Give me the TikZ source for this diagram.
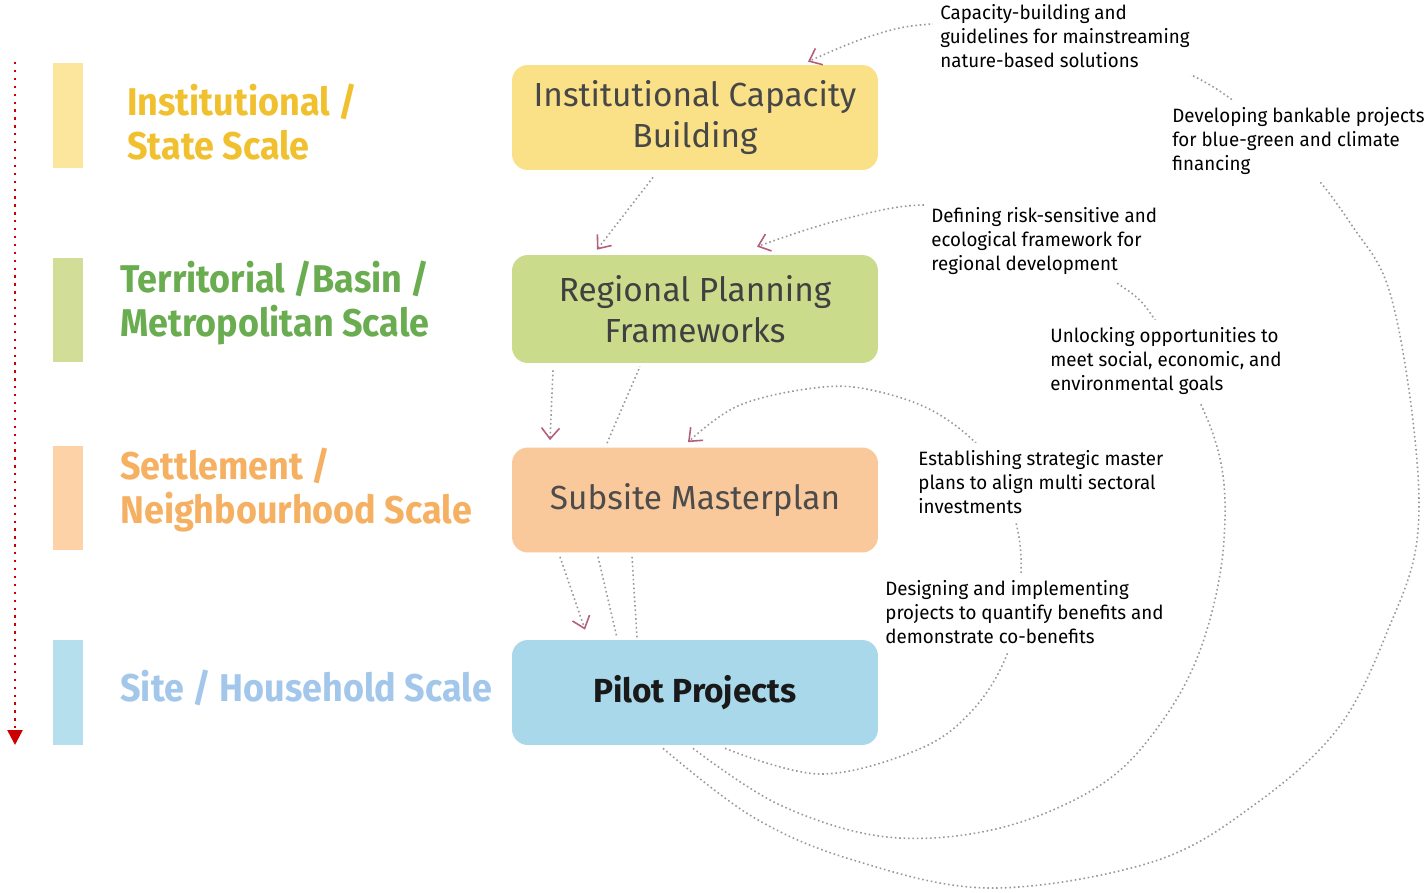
\documentclass[tikz,border=0pt]{standalone}
\usepackage{fontspec}
\setmainfont{Fira Sans}
\newfontfamily\scalefont{Fira Sans}[FakeStretch=0.93]
\newfontfamily\notefont{Fira Sans}[FakeStretch=0.97]
\usetikzlibrary{arrows.meta, positioning, calc}
\definecolor{statecolor}{RGB}{240,192,46}
\definecolor{statebar}{RGB}{252,230,158}
\definecolor{statefill}{RGB}{250,225,135}
\definecolor{basincolor}{RGB}{106,172,80}
\definecolor{basinbar}{RGB}{210,222,152}
\definecolor{basinfill}{RGB}{202,220,140}
\definecolor{settlecolor}{RGB}{245,176,98}
\definecolor{settlebar}{RGB}{252,210,166}
\definecolor{settlefill}{RGB}{249,200,155}
\definecolor{sitecolor}{RGB}{163,199,234}
\definecolor{sitebar}{RGB}{181,223,236}
\definecolor{sitefill}{RGB}{168,216,234}
\definecolor{linkgray}{RGB}{158,150,156}
\definecolor{tipcolor}{RGB}{180,95,120}
\definecolor{scalered}{RGB}{204,0,0}

\begin{document}
\begin{tikzpicture}[
    x=0.02cm, y=-0.02cm,
    level/.style={rounded corners=9pt, minimum width=7.32cm, minimum height=2.1cm, align=center, inner sep=0pt, font=\fontsize{19}{23.5}\selectfont},
    bar/.style={minimum width=0.6cm, minimum height=2.1cm, inner sep=0pt},
    scalelabel/.style={anchor=west, align=left, inner sep=0pt, font=\scalefont\fontsize{22}{25}\selectfont\bfseries},
    note/.style={anchor=west, align=left, fill=white, inner sep=4pt, font=\notefont\fontsize{11}{13.6}\selectfont},
    link/.style={draw=linkgray, line width=0.9pt, dash pattern=on 0.9pt off 1.6pt},
    arrow/.style={link, -{Straight Barb[length=2.2mm, width=3.6mm, line width=0.9pt, color=tipcolor]}}
]
    \fill[white] (0,0) rectangle (1428,893);
    \useasboundingbox (0,0) rectangle (1428,893);

    % Scale axis
    \coordinate (axistop) at (15,62);
    \coordinate (axisbottom) at (15,745);
    \draw[scalered, line width=1.4pt, dash pattern=on 1.3pt off 3.2pt, -{Triangle[length=3mm, width=3mm]}] (axistop) -- (axisbottom);

    % Scale bars and labels
    \node[bar, fill=statebar] (sbar) at (68,115.5) {};
    \node[bar, fill=basinbar] (bbar) at (68,310) {};
    \node[bar, fill=settlebar] (nbar) at (68,498) {};
    \node[bar, fill=sitebar] (hbar) at (68,692.5) {};
    \node[scalelabel, text=statecolor] (slabel) at (127,122) {Institutional /\\State Scale};
    \node[scalelabel, text=basincolor] (blabel) at (120,303) {Territorial /Basin /\\Metropolitan Scale};
    \node[scalelabel, text=settlecolor] (nlabel) at (120,490) {Settlement /\\Neighbourhood Scale};
    \node[scalelabel, text=sitecolor] (hlabel) at (120,688) {Site / Household Scale};

    % Levels
    \node[level, fill=statefill, text=black!72] (inst) at (695,117.5) {Institutional Capacity\\Building};
    \node[level, fill=basinfill, text=black!75, minimum height=2.16cm] (reg) at (695,309) {Regional Planning\\Frameworks};
    \node[level, fill=settlefill, text=black!70] (sub) at (695,500) {Subsite Masterplan};
    \node[level, fill=sitefill, text=black!90] (pilot) at (695,692.5) {\bfseries Pilot Projects};

    % Links between levels
    \draw[arrow] ($(inst.south)+(-42,7)$) -- ($(reg.north)+(-98,-5)$);
    \draw[arrow] ($(reg.south)+(-142,7)$) -- ($(sub.north)+(-145,-7)$);
    \draw[link] ($(sub.north)+(-88,-4)$) -- ($(reg.south)+(-55,3)$);
    \draw[arrow] ($(sub.south)+(-135,4)$) -- ($(pilot.north)+(-110,-10)$);
    \draw[link] ($(sub.south)+(-97,4)$) -- ($(pilot.north)+(-78,-2)$);
    \draw[link] ($(sub.south)+(-63,4)$) -- ($(pilot.north)+(-58,-2)$);

    % Feedback loops from the pilots
    \draw[arrow] plot[smooth, tension=0.6] coordinates {($(pilot.south)+(30,3)$) (820,774) (917,750) (970,713) (1006,657) (1020,590) (1017,527) (990,460) (940,415) (880,392) (823,387) (740,405) ($(sub.north)+(-7,-5)$)};
    \draw[arrow] plot[smooth, tension=0.6] coordinates {($(pilot.south)+(-2,3)$) (780,805) (887,837) (1000,828) (1102,784) (1163,720) (1203,642) (1224,540) (1215,440) (1155,320) (1110,278) (1030,225) (930,205) (840,220) ($(reg.north)+(62,-8)$)};
    \draw[arrow] plot[smooth, tension=0.6] coordinates {($(pilot.south)+(-32,3)$) (753,817) (853,860) (990,888) (1152,862) (1254,805) (1339,727) (1390,625) (1417,540) (1414,430) (1390,293) (1353,227) (1300,160) (1210,85) (1100,42) (1000,25) (920,25) (865,38) ($(inst.north)+(113,-3)$)};

    % Notes
    \node[note] (capnote) at (933,36) {Capacity-building and\\guidelines for mainstreaming\\nature-based solutions};
    \node[note] (banknote) at (1165,141) {Developing bankable projects\\for blue-green and climate\\financing};
    \node[note] (risknote) at (924,241) {Defining risk-sensitive and\\ecological framework for\\regional development};
    \node[note] (goalnote) at (1043,361) {Unlocking opportunities to\\meet social, economic, and\\environmental goals};
    \node[note] (plannote) at (911,482) {Establishing strategic master\\plans to align multi sectoral\\investments};
    \node[note] (pilotnote) at (878,612) {Designing and implementing\\projects to quantify benefits and\\demonstrate co-benefits};
\end{tikzpicture}
\end{document}
